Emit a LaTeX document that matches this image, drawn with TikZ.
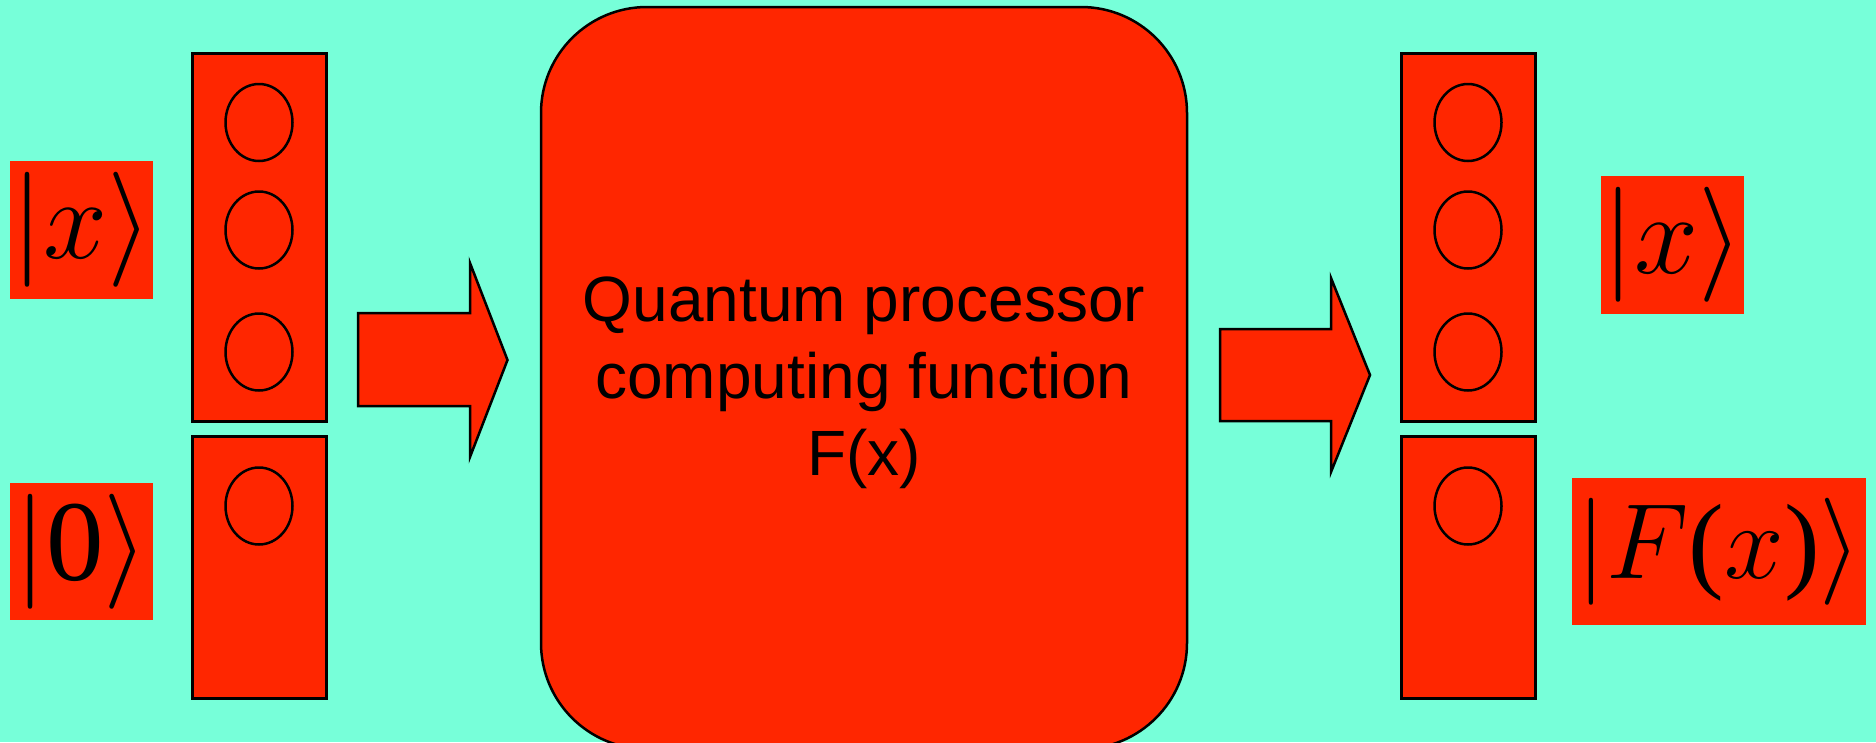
\RequirePackage{fix-cm}
\documentclass[tikz,border=0pt]{standalone}
\usepackage{fontspec}
\newfontfamily\arialf{Liberation Sans}
\newfontfamily\timesf{Liberation Serif}
\newcommand\tmu[1]{\mbox{\timesf #1}}
\usetikzlibrary{shapes.geometric}
\definecolor{bgc}{RGB}{119,255,217}
\definecolor{redc}{RGB}{255,38,0}
\begin{document}
\begin{tikzpicture}[x=1pt,y=-1pt,
  reg/.style={draw=black, line width=3pt, fill=redc, minimum width=134pt, inner sep=0pt},
  qubit/.style={ellipse, draw=black, line width=2.5pt, minimum width=67pt, minimum height=77pt, inner sep=0pt},
  ket/.style={fill=redc, inner sep=0pt, font=\fontsize{115}{120}\selectfont},
  bigarrow/.style={draw=black, line width=2.5pt, fill=redc, line join=miter}]
\fill[bgc] (0,0) rectangle (1876,742);
\useasboundingbox (0,0) rectangle (1876,742);
\clip (0,0) rectangle (1876,742);
% processor
\node[draw=black, line width=2.5pt, fill=redc, rounded corners=106pt,
      minimum width=646pt, minimum height=742pt, inner sep=0pt] (proc) at (864,378) {};
\node[font=\fontsize{64}{76.8}\selectfont\arialf, align=center, inner sep=0pt] (ptext) at (864,383)
  {Quantum processor\\computing function\\F(x)};
% registers left
\node[reg, minimum height=368pt] (regTL) at (259,237) {};
\node[reg, minimum height=262pt] (regBL) at (259,567) {};
\node[qubit] (qL1) at (259,122.5) {};
\node[qubit] (qL2) at (259,230) {};
\node[qubit] (qL3) at (259,352) {};
\node[qubit] (qL4) at (259,506) {};
% registers right
\node[reg, minimum height=368pt] (regTR) at (1468,237) {};
\node[reg, minimum height=262pt] (regBR) at (1468,567) {};
\node[qubit] (qR1) at (1468,122.5) {};
\node[qubit] (qR2) at (1468,230) {};
\node[qubit] (qR3) at (1468,352) {};
\node[qubit] (qR4) at (1468,506) {};
% arrows
\draw[bigarrow] (358,313) -- (470,313) -- (470,263) -- (507.5,360) -- (470,457) -- (470,406) -- (358,406) -- cycle;
\draw[bigarrow] (1220,329) -- (1331,329) -- (1331,278) -- (1370,375) -- (1331,472) -- (1331,421) -- (1220,421) -- cycle;
% kets
\node[ket, minimum width=143pt, minimum height=138pt, text width=141pt, align=center] (kx) at (81.5,230) {$|x\rangle$};
\node[ket, minimum width=143pt, minimum height=137pt] (k0) at (81.5,551.5) {$|\tmu{0}\rangle$};
\node[ket, minimum width=143pt, minimum height=138pt, text width=141pt, align=center] (kxo) at (1672.5,245) {$|x\rangle$};
\node[ket, font=\fontsize{107}{112}\selectfont, minimum width=294pt, minimum height=147pt, text width=292pt, align=center] (kF) at (1719,551.5) {$|F\tmu{(}x\tmu{)}\rangle$};
\end{tikzpicture}
\end{document}
